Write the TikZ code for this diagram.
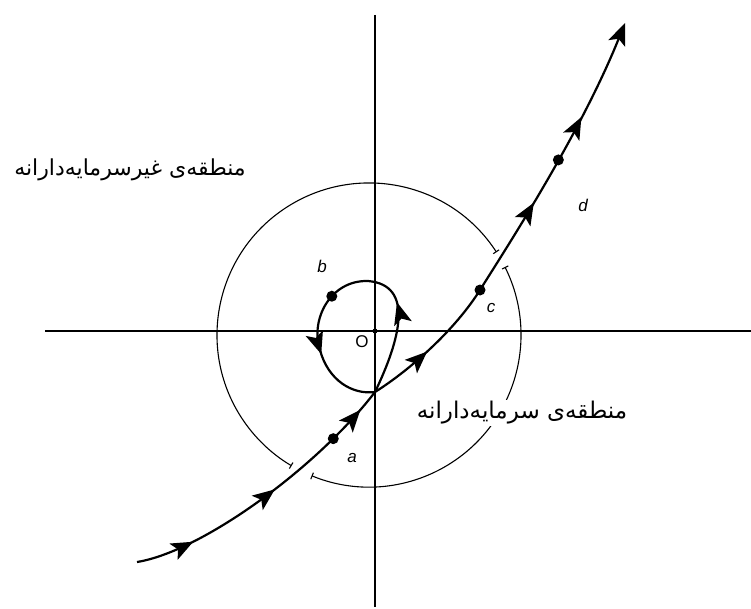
\documentclass[tikz,border=0pt]{standalone}
\usepackage{fontspec}
\setmainfont{Liberation Sans}
\newfontfamily\farsifont[Script=Arabic]{DejaVu Sans}
\TeXXeTstate=1
\usetikzlibrary{arrows.meta,decorations.markings}
\begin{document}
\begin{tikzpicture}[x=1pt,y=-1pt,
  >={Stealth[length=22pt,width=18pt,inset=5pt]},
  axisln/.style={line width=1.2pt},
  ring/.style={line width=1.1pt,{Bar[width=7pt,line width=1.1pt]}-{Bar[width=7pt,line width=1.1pt]}},
  traj/.style={line width=2.2pt},
  bdot/.style={circle,fill=black,inner sep=0pt,minimum size=11pt},
  lab/.style={font=\fontsize{17}{20}\selectfont\itshape,inner sep=0pt},
  zonetxt/.style={font=\fontsize{22}{26}\selectfont\farsifont,inner sep=1pt},
]
\useasboundingbox (0,0) rectangle (751,609);
% axes
\coordinate (yt) at (375,15);
\coordinate (yb) at (375,607);
\coordinate (xl) at (45,331);
\coordinate (xr) at (751,331);
\draw[axisln] (yt) -- (yb);
\draw[axisln] (xl) -- (xr);
% circle with gaps
\coordinate (C) at (369,335);
\draw[ring] ([shift={(-33:152)}]C) arc[start angle=-33,end angle=-239.4,radius=152];
\draw[ring] ([shift={(112.2:152)}]C) arc[start angle=112.2,end angle=-26.6,radius=152];
% zone labels
\node[zonetxt] (z1) at (130,170) {\beginR منطقه^^^^200cی غیرسرمایه^^^^200cدارانه\endR};
\node[zonetxt,fill=white,font=\fontsize{23}{26}\selectfont\farsifont] (z2) at (522,413) {\beginR منطقه^^^^200cی سرمایه^^^^200cدارانه\endR};
% origin
\node[circle,fill=black,inner sep=0pt,minimum size=5pt] (o) at (375,331) {};
\node[font=\fontsize{17}{20}\selectfont,inner sep=0pt] (lo) at (362,342) {O};
% trajectory points
\coordinate (S) at (137,562);
\coordinate (J) at (375,392);
\coordinate (T) at (368,281);
\coordinate (L) at (320,350);
\coordinate (Cc) at (480,290);
\coordinate (E) at (625,23);
% incoming branch
\draw[traj,postaction={decorate},decoration={markings,
    mark=at position 60pt with {\arrow{>}},
    mark=at position 157pt with {\arrow{>}},
    mark=at position 274pt with {\arrow{>}}}]
  (S) .. controls (200,552) and (315,470) .. (J) node[bdot,pos=0.8] (a) {};
% loop
\draw[traj,postaction={decorate},decoration={markings,
    mark=at position 94pt with {\arrow{>}},
    mark=at position 235pt with {\arrow{>}}}]
  (J) .. controls (400,340) and (415,285) .. (T)
      .. controls (330,280) and (310,320) .. (L) node[bdot,pos=0.4] (b) {}
      .. controls (328,380) and (352,395) .. (J);
% outgoing branch
\draw[traj,->,postaction={decorate},decoration={markings,
    mark=at position 66pt with {\arrow{>}},
    mark=at position 250pt with {\arrow{>}},
    mark=at position 348pt with {\arrow{>}}}]
  (J) .. controls (410,370) and (455,330) .. (Cc)
      .. controls (505,250) and (580,135) .. (E) node[bdot,pos=0.58] (d) {};
\node[bdot] (c) at (Cc) {};
% letter labels
\node[lab] (la) at (352,458) {a};
\node[lab] (lb) at (322,266) {b};
\node[lab] (lc) at (491,308) {c};
\node[lab] (ld) at (583,205) {d};
\end{tikzpicture}
\end{document}
